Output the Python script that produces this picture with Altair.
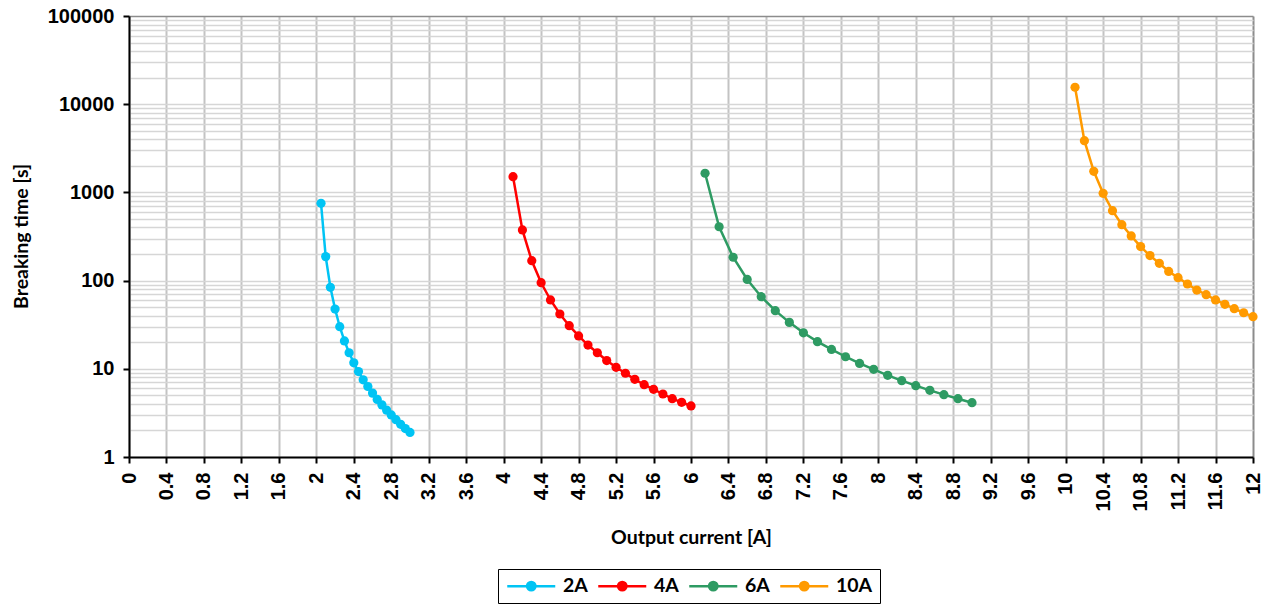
import altair as alt
import pandas as pd

# ---- data ----
series = ["2A", "4A", "6A", "10A"]
colors = ["#00C4F4", "#FF0000", "#2E9B63", "#FF9A00"]

x_2a = [2.05, 2.10, 2.15, 2.20, 2.25, 2.30, 2.35, 2.40, 2.45, 2.50,
        2.55, 2.60, 2.65, 2.70, 2.75, 2.80, 2.85, 2.90, 2.95, 3.00]
y_2a = [753, 187, 84, 47.6, 30, 20.7, 15.2, 11.7, 9.3, 7.5,
        6.3, 5.3, 4.5, 3.9, 3.4, 3.0, 2.65, 2.35, 2.1, 1.9]

x_4a = [4.1, 4.2, 4.3, 4.4, 4.5, 4.6, 4.7, 4.8, 4.9, 5.0,
        5.1, 5.2, 5.3, 5.4, 5.5, 5.6, 5.7, 5.8, 5.9, 6.0]
y_4a = [1507, 375, 168, 94.6, 60.3, 41.8, 30.8, 23.6, 18.6, 15.2,
        12.4, 10.4, 8.9, 7.6, 6.6, 5.85, 5.18, 4.58, 4.17, 3.79]

x_6a = [6.15, 6.30, 6.45, 6.60, 6.75, 6.90, 7.05, 7.20, 7.35, 7.50,
        7.65, 7.80, 7.95, 8.10, 8.25, 8.40, 8.55, 8.70, 8.85, 9.00]
y_6a = [1648, 408, 184, 103, 65.7, 45.6, 33.6, 25.6, 20.3, 16.6,
        13.7, 11.5, 9.87, 8.43, 7.33, 6.44, 5.70, 5.09, 4.58, 4.13]

x_10a = [10.1, 10.2, 10.3, 10.4, 10.5, 10.6, 10.7, 10.8, 10.9, 11.0,
         11.1, 11.2, 11.3, 11.4, 11.5, 11.6, 11.7, 11.8, 11.9, 12.0]
y_10a = [15560, 3855, 1734, 977, 621, 431, 321, 243, 192, 157,
         127, 108, 91.5, 78.2, 69.2, 60.3, 53.8, 48, 43.2, 39]

x_ticks = [0, 0.4, 0.8, 1.2, 1.6, 2, 2.4, 2.8, 3.2, 3.6, 4, 4.4, 4.8, 5.2, 5.6,
           6, 6.4, 6.8, 7.2, 7.6, 8, 8.4, 8.8, 9.2, 9.6, 10, 10.4, 10.8, 11.2,
           11.6, 12]
decades = [1, 10, 100, 1000, 10000, 100000]
multipliers = [1, 2, 3, 4, 5, 6, 7, 8, 9]
y_grid = [m * d for d in decades[:-1] for m in multipliers] + [decades[-1]]

rows = []
for name, xs, ys in zip(series, [x_2a, x_4a, x_6a, x_10a], [y_2a, y_4a, y_6a, y_10a]):
    for xv, yv in zip(xs, ys):
        rows.append({"series": name, "current": xv, "time": yv})
df = pd.DataFrame(rows)

decade_test = "indexof([1,10,100,1000,10000,100000], datum.value) >= 0"

# legend symbol: line with a filled dot (concentric rings); scale = 6 px per unit
sym = ("M-4,0L4,0"
       "M-0.7,0a0.7,0.7 0 1,0 1.4,0a0.7,0.7 0 1,0 -1.4,0"
       "M-0.4,0a0.4,0.4 0 1,0 0.8,0a0.4,0.4 0 1,0 -0.8,0"
       "M-0.12,0a0.12,0.12 0 1,0 0.24,0a0.12,0.12 0 1,0 -0.24,0")

color = alt.Color(
    "series:N",
    scale=alt.Scale(domain=series, range=colors),
    legend=alt.Legend(
        orient="none", legendX=369, legendY=553, direction="horizontal",
        title=None, symbolType=sym, symbolSize=144, symbolStrokeWidth=2.5,
        symbolOffset=16.5, labelOffset=22,
        labelFont="Lato", labelFontSize=19.5, labelFontWeight="bold",
        labelColor="black", strokeColor="black", padding=7,
        columnPadding=5, symbolOpacity=1,
    ),
)

x_enc = alt.X(
    "current:Q",
    scale=alt.Scale(domain=[0, 12], nice=False, zero=False),
    axis=alt.Axis(
        values=x_ticks, format=".1~f", labelAngle=-90, labelAlign="right",
        labelBaseline="middle", labelPadding=9,
        labelFont="Liberation Sans", labelFontSize=20, labelFontWeight="bold",
        labelColor="black", labelOverlap=False, labelFlush=False,
        tickSize=6, tickColor="black", tickWidth=2,
        domainColor="black", domainWidth=2,
        grid=True, gridWidth=2,
        gridColor={"condition": {"test": "datum.value == 12", "value": "#8c8c8c"},
                   "value": "#c3c3c3"},
        title="Output current [A]", titleFont="Lato", titleFontSize=19.5,
        titleFontWeight="bold", titleColor="black",
        titleX=562, titleY=80, titleAlign="center", titleBaseline="middle",
    ),
)

y_enc = alt.Y(
    "time:Q",
    scale=alt.Scale(type="log", domain=[1, 100000], nice=False),
    axis=alt.Axis(
        values=y_grid, format="d",
        labelExpr=decade_test + " ? datum.label : ''",
        labelFont="Liberation Sans", labelFontSize=20, labelFontWeight="bold",
        labelColor="black", labelPadding=9, labelOverlap=False, labelFlush=False,
        tickSize=6, tickWidth=2,
        tickColor={"condition": {"test": decade_test, "value": "black"},
                   "value": "transparent"},
        domainColor="black", domainWidth=2,
        grid=True, gridWidth=1.5,
        gridColor={"condition": {"test": "datum.value == 100000", "value": "#8c8c8c"},
                   "value": "#d6d6d6"},
        title="Breaking time [s]", titleFont="Lato", titleFontSize=19.5,
        titleFontWeight="bold", titleColor="black",
        titleX=-108, titleY=220, titleAngle=-90, titleAlign="center",
        titleBaseline="middle",
    ),
)

base = alt.Chart(df).encode(x=x_enc, y=y_enc, color=color)
lines = base.mark_line(strokeWidth=2.5)
points = base.mark_point(filled=True, size=85, opacity=1)

chart = (lines + points).properties(
    width=1124, height=441, autosize="none",
    padding={"left": 121, "top": 8, "right": 12, "bottom": 148},
).configure_view(stroke="transparent")

chart.save("out.html", embed_options={"renderer": "svg", "actions": False})
